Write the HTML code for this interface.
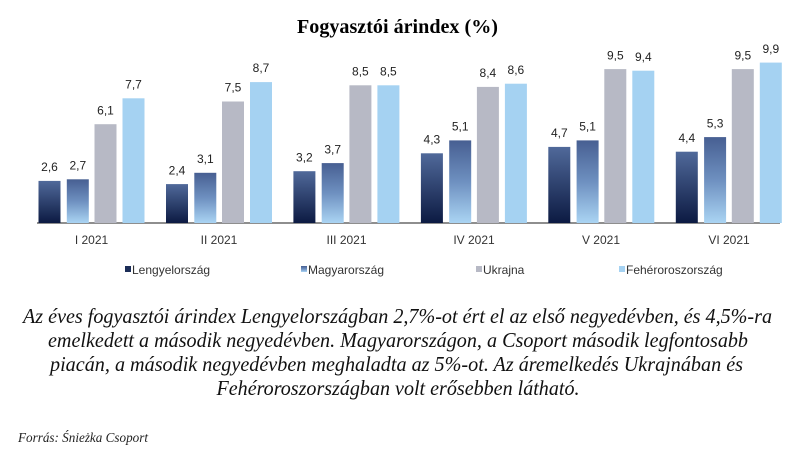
<!DOCTYPE html>
<html>
<head>
<meta charset="utf-8">
<style>
  html, body { margin: 0; padding: 0; background: #ffffff; }
  svg { display: block; }
</style>
</head>
<body>
<svg width="800" height="452" viewBox="0 0 800 452" xmlns="http://www.w3.org/2000/svg">
  <defs>
    <linearGradient id="g1" x1="0" y1="0" x2="0" y2="1">
      <stop offset="0" stop-color="#50699a"/>
      <stop offset="1" stop-color="#0c1a42"/>
    </linearGradient>
    <linearGradient id="g2" x1="0" y1="0" x2="0" y2="1">
      <stop offset="0" stop-color="#475f92"/>
      <stop offset="0.5" stop-color="#6e90c0"/>
      <stop offset="1" stop-color="#aad4f3"/>
    </linearGradient>
  </defs>
  <rect width="800" height="452" fill="#ffffff"/>

  <text x="397.5" y="33" text-anchor="middle" font-family="Liberation Serif, serif" font-weight="bold" font-size="20" fill="#000" textLength="201" lengthAdjust="spacingAndGlyphs">Fogyasztói árindex (%)</text>

  <line x1="37" y1="223" x2="780" y2="223" stroke="#8e8e8e" stroke-width="2"/>

  <g font-family="Liberation Sans, sans-serif" font-size="12" fill="#333" text-anchor="middle">
    <text x="91.5" y="244">I 2021</text>
    <text x="219" y="244">II 2021</text>
    <text x="346.5" y="244">III 2021</text>
    <text x="474" y="244">IV 2021</text>
    <text x="601" y="244">V 2021</text>
    <text x="729" y="244">VI 2021</text>
  </g>

  <g font-family="Liberation Sans, sans-serif" font-size="12" fill="#333">
    <rect x="125" y="266" width="6" height="6" fill="#1b2d57"/>
    <text x="132" y="274">Lengyelország</text>
    <rect x="301" y="266" width="6" height="6" fill="url(#g2)"/>
    <text x="308" y="274">Magyarország</text>
    <rect x="476" y="266" width="6" height="6" fill="#b7b9c5"/>
    <text x="483" y="274">Ukrajna</text>
    <rect x="619" y="266" width="6" height="6" fill="#a5d2f2"/>
    <text x="626" y="274">Fehéroroszország</text>
  </g>

  <g font-family="Liberation Serif, serif" font-style="italic" font-size="21" fill="#111" text-anchor="middle">
    <text x="397.5" y="323" textLength="749" lengthAdjust="spacingAndGlyphs">Az éves fogyasztói árindex Lengyelországban 2,7%-ot ért el az első negyedévben, és 4,5%-ra</text>
    <text x="398" y="347" textLength="700" lengthAdjust="spacingAndGlyphs">emelkedett a második negyedévben. Magyarországon, a Csoport második legfontosabb</text>
    <text x="396.5" y="371" textLength="693" lengthAdjust="spacingAndGlyphs">piacán, a második negyedévben meghaladta az 5%-ot. Az áremelkedés Ukrajnában és</text>
    <text x="398" y="395" textLength="363" lengthAdjust="spacingAndGlyphs">Fehéroroszországban volt erősebben látható.</text>
  </g>

  <text x="18" y="442" font-family="Liberation Serif, serif" font-style="italic" font-size="14" fill="#222" textLength="130" lengthAdjust="spacingAndGlyphs">Forrás: Śnieżka Csoport</text>

  <!-- Bars -->
  <g>
    <rect x="38.5" y="180.9" width="22" height="42.1" fill="url(#g1)"/>
    <rect x="66.8" y="179.3" width="22" height="43.7" fill="url(#g2)"/>
    <rect x="94.5" y="124.2" width="22" height="98.8" fill="#b7b9c5"/>
    <rect x="122.5" y="98.3" width="22" height="124.7" fill="#a5d2f2"/>

    <rect x="166" y="184.1" width="22" height="38.9" fill="url(#g1)"/>
    <rect x="194.3" y="172.8" width="22" height="50.2" fill="url(#g2)"/>
    <rect x="222" y="101.5" width="22" height="121.5" fill="#b7b9c5"/>
    <rect x="250" y="82.1" width="22" height="140.9" fill="#a5d2f2"/>

    <rect x="293.4" y="171.2" width="22" height="51.8" fill="url(#g1)"/>
    <rect x="321.7" y="163.1" width="22" height="59.9" fill="url(#g2)"/>
    <rect x="349.4" y="85.3" width="22" height="137.7" fill="#b7b9c5"/>
    <rect x="377.4" y="85.3" width="22" height="137.7" fill="#a5d2f2"/>

    <rect x="420.9" y="153.3" width="22" height="69.7" fill="url(#g1)"/>
    <rect x="449.2" y="140.4" width="22" height="82.6" fill="url(#g2)"/>
    <rect x="476.9" y="86.9" width="22" height="136.1" fill="#b7b9c5"/>
    <rect x="504.9" y="83.7" width="22" height="139.3" fill="#a5d2f2"/>

    <rect x="548.3" y="146.9" width="22" height="76.1" fill="url(#g1)"/>
    <rect x="576.6" y="140.4" width="22" height="82.6" fill="url(#g2)"/>
    <rect x="604.3" y="69.1" width="22" height="153.9" fill="#b7b9c5"/>
    <rect x="632.3" y="70.7" width="22" height="152.3" fill="#a5d2f2"/>

    <rect x="675.8" y="151.7" width="22" height="71.3" fill="url(#g1)"/>
    <rect x="704.1" y="137.1" width="22" height="85.9" fill="url(#g2)"/>
    <rect x="731.8" y="69.1" width="22" height="153.9" fill="#b7b9c5"/>
    <rect x="759.8" y="62.6" width="22" height="160.4" fill="#a5d2f2"/>
  </g>

  <!-- Value labels -->
  <g font-family="Liberation Sans, sans-serif" font-size="12" fill="#222" text-anchor="middle">
    <text x="49.5" y="171">2,6</text>
    <text x="77.8" y="169.5">2,7</text>
    <text x="105.5" y="114.5">6,1</text>
    <text x="133.5" y="88.5">7,7</text>

    <text x="177" y="174.5">2,4</text>
    <text x="205.3" y="163">3,1</text>
    <text x="233" y="91.5">7,5</text>
    <text x="261" y="72">8,7</text>

    <text x="304.4" y="161.5">3,2</text>
    <text x="332.7" y="153.5">3,7</text>
    <text x="360.4" y="75.5">8,5</text>
    <text x="388.4" y="75.5">8,5</text>

    <text x="431.9" y="143.5">4,3</text>
    <text x="460.2" y="130.5">5,1</text>
    <text x="487.9" y="77">8,4</text>
    <text x="515.9" y="74">8,6</text>

    <text x="559.3" y="137">4,7</text>
    <text x="587.6" y="130.5">5,1</text>
    <text x="615.3" y="59.5">9,5</text>
    <text x="643.3" y="61">9,4</text>

    <text x="686.8" y="142">4,4</text>
    <text x="715.1" y="127.5">5,3</text>
    <text x="742.8" y="59.5">9,5</text>
    <text x="770.8" y="53">9,9</text>
  </g>
</svg>
</body>
</html>
